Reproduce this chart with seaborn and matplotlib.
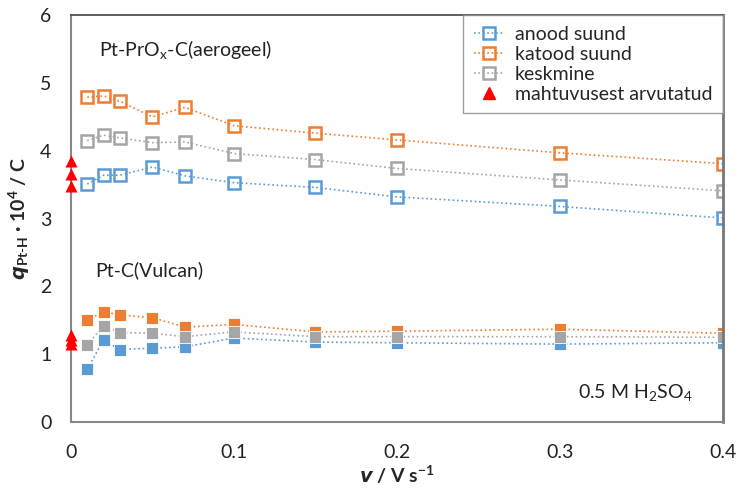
import matplotlib
matplotlib.use("Agg")
import matplotlib.pyplot as plt
import seaborn as sns
import pandas as pd
from matplotlib.lines import Line2D

sns.set_theme(style="white")
plt.rcParams['font.family'] = ['Lato', 'DejaVu Sans']
plt.rcParams['mathtext.fontset'] = 'custom'
plt.rcParams['mathtext.rm'] = 'Lato'
plt.rcParams['mathtext.it'] = 'Lato:italic'
plt.rcParams['mathtext.bf'] = 'Lato:bold'

# scan rates (V/s)
scan_rate = [0.01, 0.02, 0.03, 0.05, 0.07, 0.1, 0.15, 0.2, 0.3, 0.4]

# Pt-PrOx-C(aerogeel)
aero_anood = [3.51, 3.64, 3.64, 3.76, 3.63, 3.53, 3.46, 3.32, 3.18, 3.01]
aero_katood = [4.79, 4.81, 4.73, 4.50, 4.64, 4.37, 4.26, 4.16, 3.97, 3.81]
aero_kesk = [4.15, 4.23, 4.19, 4.12, 4.13, 3.96, 3.87, 3.74, 3.57, 3.41]

# Pt-C(Vulcan)
vul_anood = [0.78, 1.21, 1.07, 1.09, 1.11, 1.24, 1.18, 1.17, 1.15, 1.17]
vul_katood = [1.50, 1.63, 1.58, 1.54, 1.40, 1.44, 1.33, 1.34, 1.37, 1.31]
vul_kesk = [1.14, 1.42, 1.32, 1.31, 1.26, 1.33, 1.26, 1.26, 1.26, 1.25]

# capacitance-derived values (at v = 0)
cap_x = [0, 0, 0, 0, 0, 0]
cap_y = [3.85, 3.66, 3.48, 1.28, 1.21, 1.15]

series_names = ["anood suund", "katood suund", "keskmine", "mahtuvusest arvutatud"]
colors = ["#5B9BD5", "#ED7D31", "#A5A5A5"]

FS = 14

fig = plt.figure(figsize=(7.39, 4.88), dpi=100)
ax = fig.add_axes([0.096, 0.135, 0.882, 0.834])

for vals, c in zip([vul_anood, vul_katood, vul_kesk], colors):
    sns.lineplot(x=scan_rate, y=vals, ax=ax, color=c, linestyle=':', lw=1.2,
                 marker='s', markersize=8, markerfacecolor=c,
                 markeredgecolor='#ffffff', markeredgewidth=0.6, legend=False)

for vals, c in zip([aero_anood, aero_katood, aero_kesk], colors):
    sns.lineplot(x=scan_rate, y=vals, ax=ax, color=c, linestyle=':', lw=1.2,
                 marker='s', markersize=8.5, markerfacecolor='none',
                 markeredgecolor=c, markeredgewidth=1.8, legend=False)

sns.scatterplot(x=cap_x, y=cap_y, ax=ax, marker='^', color='#FF0000', s=75,
                edgecolor='#FF0000', linewidth=0, zorder=5, clip_on=False, legend=False)

ax.set_xlim(0, 0.4)
ax.set_ylim(0, 6)
ax.set_xticks([0, 0.1, 0.2, 0.3, 0.4])
ax.set_xticklabels(["0", "0.1", "0.2", "0.3", "0.4"])
ax.set_yticks([0, 1, 2, 3, 4, 5, 6])
ax.set_yticklabels(["0", "1", "2", "3", "4", "5", "6"])
ax.tick_params(axis='both', direction='in', length=5, width=0.8, color='#999999',
               labelsize=FS, colors='#222222')
ax.tick_params(axis='x', pad=16)
ax.tick_params(axis='y', pad=14)
for s in ['left', 'bottom']:
    ax.spines[s].set_color('#888888')
    ax.spines[s].set_linewidth(1.5)
ax.spines['top'].set_color('#444444')
ax.spines['top'].set_linewidth(1.2)
ax.spines['right'].set_color('#777777')
ax.spines['right'].set_linewidth(2.0)

ax.set_xlabel(r"$\boldsymbol{v}$ / V s$^{\mathbf{-1}}$", fontsize=FS, fontweight='bold', labelpad=2)
ax.set_ylabel(r"$\boldsymbol{q}_{\mathbf{Pt\text{-}H}}$ · 10$^{\mathbf{4}}$ / C", fontsize=FS,
              fontweight='bold', labelpad=6)

ax.text(0.017, 5.5, r"Pt-PrO$_{\mathrm{x}}$-C(aerogeel)", fontsize=FS, va='center', ha='left', color='#222222')
ax.text(0.015, 2.24, "Pt-C(Vulcan)", fontsize=FS, va='center', ha='left', color='#222222')
ax.text(0.311, 0.44, r"0.5 M H$_2$SO$_4$", fontsize=FS, va='center', ha='left', color='#222222')

handles = [Line2D([], [], color=c, linestyle=':', lw=1.2, marker='s', markersize=8,
                  markerfacecolor='none', markeredgecolor=c, markeredgewidth=1.8)
           for c in colors]
handles.append(Line2D([], [], linestyle='none', marker='^', color='#FF0000', markersize=8))
leg = ax.legend(handles, series_names, loc='upper right', bbox_to_anchor=(1, 1),
                borderaxespad=0, fontsize=FS, frameon=True, fancybox=False,
                handlelength=1.6, handletextpad=0.5, labelspacing=0.15,
                borderpad=0.55)
leg.get_frame().set_edgecolor('#888888')
leg.get_frame().set_linewidth(1.0)

fig.savefig("out.png", dpi=100)
